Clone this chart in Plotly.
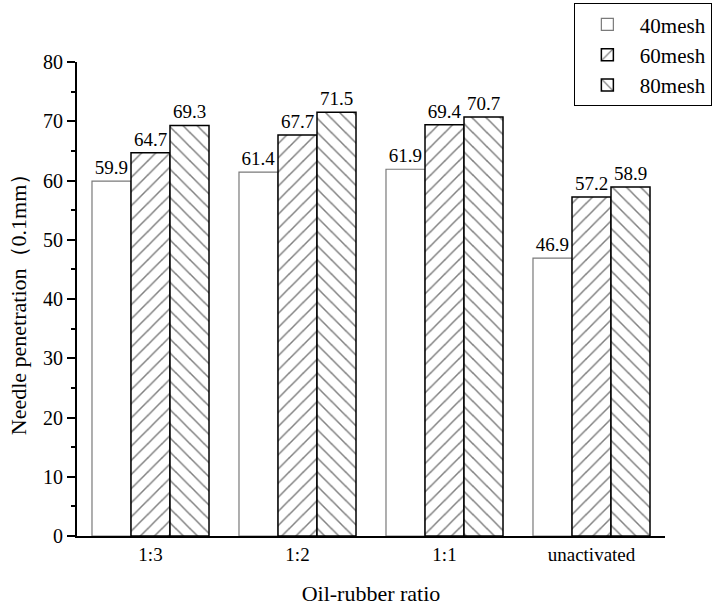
import plotly.graph_objects as go

categories = ["1:3", "1:2", "1:1", "unactivated"]
mesh40 = [59.9, 61.4, 61.9, 46.9]
mesh60 = [64.7, 67.7, 69.4, 57.2]
mesh80 = [69.3, 71.5, 70.7, 58.9]
series_names = ["40mesh", "60mesh", "80mesh"]

FONT = "Liberation Serif"

fig = go.Figure()
fig.add_trace(go.Bar(
    x=categories, y=mesh40, name=series_names[0],
    marker=dict(color="white", line=dict(color="#7a7a7a", width=1.2)),
    text=[f"{v:.1f}" for v in mesh40], textposition="outside",
    textfont=dict(size=19, color="black", family=FONT), cliponaxis=False,
))
fig.add_trace(go.Bar(
    x=categories, y=mesh60, name=series_names[1],
    marker=dict(color="white", line=dict(color="black", width=1.5),
                pattern=dict(shape="/", fgcolor="black", bgcolor="white", size=10, solidity=0.15)),
    text=[f"{v:.1f}" for v in mesh60], textposition="outside",
    textfont=dict(size=19, color="black", family=FONT), cliponaxis=False,
))
fig.add_trace(go.Bar(
    x=categories, y=mesh80, name=series_names[2],
    marker=dict(color="white", line=dict(color="black", width=1.5),
                pattern=dict(shape="\\", fgcolor="black", bgcolor="white", size=10, solidity=0.15)),
    text=[f"{v:.1f}" for v in mesh80], textposition="outside",
    textfont=dict(size=19, color="black", family=FONT), cliponaxis=False,
))

fig.update_layout(
    width=715, height=606,
    margin=dict(l=77, r=50, t=62, b=70, autoexpand=False),
    paper_bgcolor="white", plot_bgcolor="white",
    font=dict(family=FONT, size=19, color="black"),
    barmode="group", bargap=0.204, bargroupgap=0,
    showlegend=True,
    legend=dict(x=0.845, y=1.124, xanchor="left", yanchor="top",
                bordercolor="black", borderwidth=1, bgcolor="white",
                font=dict(size=21, family=FONT, color="black"), tracegroupgap=0,
                itemwidth=55),
    xaxis=dict(
        showline=True, linecolor="black", linewidth=2, ticks="",
        showgrid=False, zeroline=False, tickfont=dict(size=19, family=FONT, color="black"),
        title=dict(text="Oil-rubber ratio", font=dict(size=22, family=FONT, color="black"), standoff=24),
        range=[-0.5, 3.5],
    ),
    yaxis=dict(
        range=[0, 80], dtick=10, showline=True, linecolor="black", linewidth=2,
        ticks="outside", ticklen=8, tickwidth=2, tickcolor="black",
        minor=dict(dtick=5, ticks="outside", ticklen=4, tickwidth=1.5, tickcolor="black"),
        showgrid=False, zeroline=False, tickfont=dict(size=20, family=FONT, color="black"),
        title=dict(text="Needle penetration（0.1mm）", font=dict(size=22, family=FONT, color="black"), standoff=10),
    ),
)

fig.write_html("out.html")
